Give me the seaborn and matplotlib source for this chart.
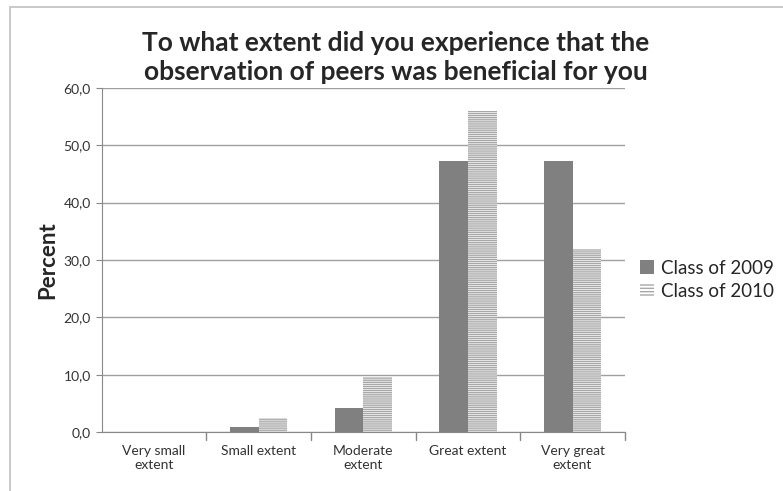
import pandas as pd
import matplotlib.pyplot as plt
import seaborn as sns
from matplotlib.patches import Patch, Rectangle

# Values
categories = ["Very small\nextent", "Small extent", "Moderate\nextent", "Great extent", "Very great\nextent"]
class_2009 = [0.0, 0.9, 4.2, 47.2, 47.2]
class_2010 = [0.0, 2.4, 9.6, 56.0, 32.0]
series_names = ["Class of 2009", "Class of 2010"]
y_ticks = [0, 10, 20, 30, 40, 50, 60]

df = pd.DataFrame({
    "category": categories * 2,
    "percent": class_2009 + class_2010,
    "series": [series_names[0]] * 5 + [series_names[1]] * 5,
})

sns.set_style("white")
plt.rcParams["font.family"] = ["Lato", "DejaVu Sans"]

fig = plt.figure(figsize=(7.83, 4.91), dpi=100)
ax = fig.add_axes([0.130, 0.120, 0.668, 0.701])

sns.barplot(data=df, x="category", y="percent", hue="series", order=categories,
            palette=["#808080", "#ffffff"], width=0.55, saturation=1, ax=ax, legend=False)

# light series gets horizontal line pattern
for bar in ax.containers[1]:
    bar.set_hatch("--------")
    bar.set_edgecolor("#a8a8a8")
    bar.set_linewidth(0)
for bar in ax.containers[0]:
    bar.set_linewidth(0)

ax.set_ylim(0, 60)
ax.set_xlim(-0.5, 4.5)
ax.set_yticks(y_ticks)
ax.set_yticklabels([f"{v:.1f}".replace(".", ",") for v in y_ticks], fontsize=10, color="#333333")
ax.tick_params(axis="x", labelsize=10, colors="#333333", length=0, pad=9)
ax.tick_params(axis="y", length=4, color="#888888", direction="out", left=True, pad=4)
ax.yaxis.grid(True, color="#a0a0a0", linewidth=1)
ax.set_axisbelow(True)
for side in ["top", "right"]:
    ax.spines[side].set_visible(False)
for side in ["left", "bottom"]:
    ax.spines[side].set_color("#888888")
ax.set_xlabel("")
ax.set_ylabel("Percent", fontsize=16, fontweight="bold", labelpad=4)

# category boundary ticks on x axis
for b in [0.5, 1.5, 2.5, 3.5, 4.5]:
    ax.plot([b, b], [0, -1.3], color="#888888", linewidth=1, clip_on=False)

fig.text(0.505, 0.882, "To what extent did you experience that the\nobservation of peers was beneficial for you",
         ha="center", va="center", fontsize=19, fontweight="bold", linespacing=1.25)

handles = [Patch(facecolor="#808080", edgecolor="none"),
           Patch(facecolor="white", edgecolor="#a8a8a8", hatch="-----", linewidth=0)]
fig.legend(handles, series_names, loc="center left", bbox_to_anchor=(0.808, 0.43),
           frameon=False, fontsize=13.5, handlelength=0.75, handleheight=0.75,
           handletextpad=0.35, labelspacing=0.35, borderaxespad=0)

# outer chart border
fig.patches.append(Rectangle((10 / 783, -0.1), 1.2, 1.1 - 7 / 491, transform=fig.transFigure,
                             fill=False, edgecolor="#c0c0c0", linewidth=1.2))

fig.savefig("out.png", dpi=100)
plt.close()
